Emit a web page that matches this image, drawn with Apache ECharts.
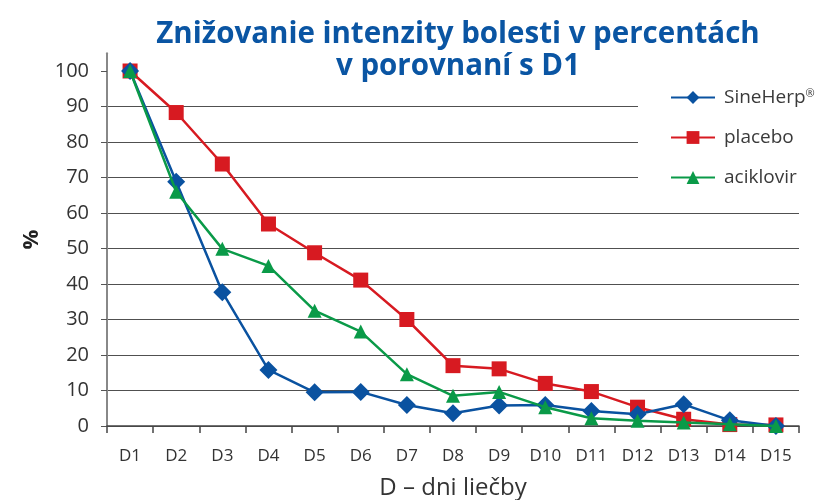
<!DOCTYPE html>
<html>
<head>
<meta charset="utf-8">
<script src="https://cdn.jsdelivr.net/npm/echarts@6/dist/echarts.min.js"></script>
<style>html,body{margin:0;padding:0;background:#fff}#c{width:819px;height:500px}</style>
</head>
<body>
<div id="c"></div>
<script>
const categories = ['D1','D2','D3','D4','D5','D6','D7','D8','D9','D10','D11','D12','D13','D14','D15'];
const sineHerp = [100, 68.8, 37.7, 15.8, 9.5, 9.6, 5.9, 3.6, 5.8, 5.9, 4.2, 3.3, 6.1, 1.6, 0];
const placebo  = [100, 88.3, 73.8, 56.9, 48.8, 41.1, 30.0, 17.0, 16.1, 12.0, 9.7, 5.3, 1.9, 0.4, 0.3];
const aciklovir = [100, 66.0, 49.9, 45.1, 32.5, 26.6, 14.6, 8.5, 9.6, 5.3, 2.2, 1.5, 1.0, 0.5, 0];
const yTicks = [0, 10, 20, 30, 40, 50, 60, 70, 80, 90, 100];
const seriesNames = ['SineHerp®', 'placebo', 'aciklovir'];
const titleText = 'Znižovanie intenzity bolesti v percentách\nv porovnaní s D1';
const yAxisName = '%';
const xAxisName = 'D – dni liečby';

const chart = echarts.init(document.getElementById('c'), null, {renderer: 'canvas'});
const fontFam = '"Open Sans", "Noto Sans", sans-serif';
const gridColors = yTicks.map(v => v >= 100 ? 'rgba(0,0,0,0)' : '#505050');
gridColors.push('rgba(0,0,0,0)');
chart.setOption({
  animation: false,
  backgroundColor: '#fff',
  title: {
    text: titleText,
    left: 453, top: 14, textAlign: 'center',
    textStyle: {color: '#0a55a3', fontSize: 29.5, fontWeight: 'bold', fontFamily: fontFam, lineHeight: 32}
  },
  legend: {
    orient: 'vertical',
    left: 638, top: 80,
    padding: [8, 10, 12, 32],
    backgroundColor: '#fff',
    itemWidth: 44, itemHeight: 16, itemGap: 21,
    data: seriesNames,
    formatter: function (n) { return n.replace('®', '{sup|®}'); },
    textStyle: {
      color: '#3a3a3a', fontSize: 19, fontFamily: fontFam, padding: [0, 0, 0, 4],
      rich: {sup: {fontSize: 11, verticalAlign: 'top', padding: [0, 0, 8, 0], color: '#3a3a3a', fontFamily: fontFam}}
    }
  },
  grid: {left: 107, right: 20, top: 53.25, bottom: 74, containLabel: false, outerBoundsMode: 'none'},
  xAxis: {
    type: 'category', data: categories, boundaryGap: true,
    name: xAxisName, nameLocation: 'middle', nameGap: 50,
    nameTextStyle: {color: '#333', fontSize: 24, fontFamily: fontFam},
    axisLine: {lineStyle: {color: '#444', width: 1.5}},
    axisTick: {show: true, length: 7, lineStyle: {color: '#444', width: 1.5}},
    axisLabel: {color: '#333', fontSize: 17, fontFamily: fontFam, margin: 22}
  },
  yAxis: {
    type: 'value', min: 0, max: 105, interval: 10,
    name: yAxisName, nameLocation: 'middle', nameGap: 64, nameRotate: 90,
    nameTextStyle: {color: '#222', fontSize: 22, fontWeight: 'bold', fontFamily: fontFam},
    axisLine: {show: true, lineStyle: {color: '#888', width: 2}},
    axisTick: {show: true, length: 6, customValues: yTicks, lineStyle: {color: '#555', width: 1}},
    axisLabel: {color: '#333', fontSize: 20, fontFamily: fontFam, margin: 18, customValues: yTicks,
      formatter: function (v) { return v > 100 ? '' : String(v); }},
    splitLine: {show: true, showMaxLine: false, lineStyle: {color: gridColors, width: 1}}
  },
  series: [
    {name: seriesNames[0], type: 'line', data: sineHerp, symbol: 'diamond', symbolSize: 18,
     lineStyle: {color: '#0a52a0', width: 2.5}, itemStyle: {color: '#0a52a0'}, z: 4},
    {name: seriesNames[1], type: 'line', data: placebo, symbol: 'rect', symbolSize: 15,
     lineStyle: {color: '#d71a21', width: 2.5}, itemStyle: {color: '#d71a21'}, z: 3},
    {name: seriesNames[2], type: 'line', data: aciklovir, symbol: 'triangle', symbolSize: 14,
     lineStyle: {color: '#0a9a48', width: 2.5}, itemStyle: {color: '#0a9a48'}, z: 5}
  ]
});
</script>
</body>
</html>
